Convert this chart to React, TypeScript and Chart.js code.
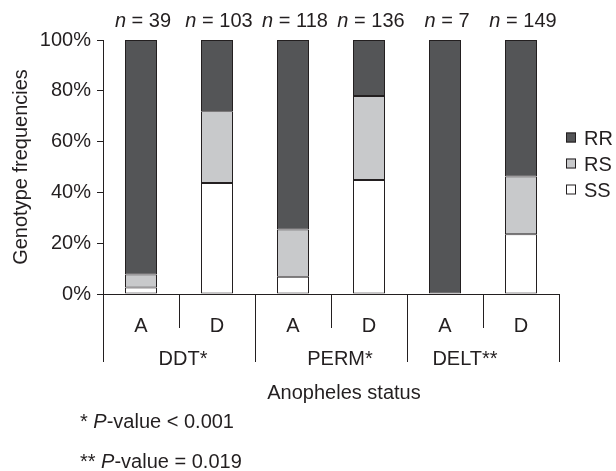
import React, { useEffect, useRef } from "react";
import { Chart, registerables } from "chart.js";
Chart.register(...registerables);

const categories = ["A", "D", "A", "D", "A", "D"];
const groups = ["DDT*", "PERM*", "DELT**"];
const sampleSizes = [39, 103, 118, 136, 7, 149];
const ssValues = [2.6, 43.7, 6.8, 44.9, 0, 23.5];
const rsValues = [5.1, 28.2, 18.6, 33.1, 0, 22.8];
const rrValues = [92.3, 28.1, 74.6, 22.0, 100, 53.7];
const yTickStep = 20;
const yTitle = "Genotype frequencies";
const xTitle = "Anopheles status";
const footnoteMarks = ["*", "**"];
const footnoteTexts = ["-value < 0.001", "-value = 0.019"];

const INK = "#231f20";
const FONT = "'Liberation Sans', Arial, Helvetica, sans-serif";

const extrasPlugin = {
  id: "extras",
  afterDraw(chart: any) {
    const ctx = chart.ctx as CanvasRenderingContext2D;
    const xs = chart.scales.x;
    const area = chart.chartArea;
    const step = xs.getPixelForValue(1) - xs.getPixelForValue(0);
    ctx.save();
    ctx.fillStyle = INK;
    ctx.strokeStyle = INK;
    ctx.lineWidth = 1;
    // n labels
    ctx.textBaseline = "alphabetic";
    sampleSizes.forEach((n, i) => {
      const cx = xs.getPixelForValue(i) + 2;
      ctx.font = `italic 20px ${FONT}`;
      const w1 = ctx.measureText("n").width;
      ctx.font = `20px ${FONT}`;
      const rest = " = " + n;
      const w2 = ctx.measureText(rest).width;
      const x0 = cx - (w1 + w2) / 2;
      ctx.textAlign = "left";
      ctx.font = `italic 20px ${FONT}`;
      ctx.fillText("n", x0, area.top - 13);
      ctx.font = `20px ${FONT}`;
      ctx.fillText(rest, x0 + w1, area.top - 13);
    });
    // separators
    for (let i = 0; i <= categories.length; i++) {
      const bx = Math.round(xs.getPixelForValue(i) - step / 2) + 0.5;
      const long = i % 2 === 0;
      ctx.beginPath();
      ctx.moveTo(bx, area.bottom);
      ctx.lineTo(bx, area.bottom + (long ? 68 : 34));
      ctx.stroke();
    }
    // group labels
    const groupDx = [4, 9, -18];
    ctx.font = `20px ${FONT}`;
    ctx.textAlign = "center";
    groups.forEach((g, gi) => {
      const cx = (xs.getPixelForValue(gi * 2) + xs.getPixelForValue(gi * 2 + 1)) / 2 + groupDx[gi];
      ctx.fillText(g, cx, area.bottom + 71);
    });
    ctx.fillText(xTitle, (area.left + area.right) / 2 + 13, area.bottom + 105);
    // footnotes
    footnoteMarks.forEach((m, i) => {
      const yb = area.bottom + 134 + i * 39.5;
      let x = 80;
      ctx.textAlign = "left";
      ctx.font = `20px ${FONT}`;
      ctx.fillText(m + " ", x, yb);
      x += ctx.measureText(m + " ").width;
      ctx.font = `italic 20px ${FONT}`;
      ctx.fillText("P", x, yb);
      x += ctx.measureText("P").width;
      ctx.font = `20px ${FONT}`;
      ctx.fillText(footnoteTexts[i], x, yb);
    });
    // legend (reverse order)
    const ds = chart.data.datasets;
    ctx.textAlign = "left";
    ctx.textBaseline = "alphabetic";
    for (let k = ds.length - 1, row = 0; k >= 0; k--, row++) {
      const cy = 137.5 + row * 26;
      ctx.fillStyle = ds[k].backgroundColor;
      ctx.fillRect(566, cy - 5, 10, 10);
      ctx.strokeStyle = INK;
      ctx.strokeRect(566.5, cy - 4.5, 9, 9);
      ctx.fillStyle = INK;
      ctx.font = `20px ${FONT}`;
      ctx.fillText(ds[k].label, 584, cy + 7);
    }
    ctx.restore();
  },
};

export default function App() {
  const ref = useRef<HTMLCanvasElement>(null);
  useEffect(() => {
    if (!ref.current) return;
    const common = { borderColor: INK, borderWidth: 1, borderSkipped: false as const };
    const chart = new Chart(ref.current, {
      type: "bar",
      data: {
        labels: categories,
        datasets: [
          { label: "SS", data: ssValues, backgroundColor: "#ffffff", ...common },
          { label: "RS", data: rsValues, backgroundColor: "#c8c9cb", ...common },
          { label: "RR", data: rrValues, backgroundColor: "#545557", ...common },
        ],
      },
      options: {
        animation: false,
        responsive: false,
        layout: { padding: { top: 40, right: 57, left: 0, bottom: 0 } },
        plugins: { legend: { display: false }, tooltip: { enabled: false } },
        datasets: { bar: { categoryPercentage: 1, barPercentage: 32 / 76 } },
        scales: {
          x: {
            stacked: true,
            grid: { display: false },
            border: { display: true, color: INK, width: 1 },
            ticks: { color: INK, font: { family: FONT, size: 20 }, padding: 12 },
            afterFit: (s: any) => { s.height = 177; },
          },
          y: {
            stacked: true,
            min: 0,
            max: 100,
            grid: { drawOnChartArea: false, drawTicks: true, tickLength: 6, color: INK },
            border: { display: true, color: INK, width: 1 },
            ticks: {
              stepSize: yTickStep,
              color: INK,
              padding: 6,
              font: { family: FONT, size: 20 },
              callback: (v: any) => v + "%",
            },
            title: {
              display: true,
              text: yTitle,
              color: INK,
              font: { family: FONT, size: 20 },
              padding: { top: 9, bottom: 0 },
            },
            afterFit: (s: any) => { s.width = 103; },
          },
        },
      },
      plugins: [extrasPlugin],
    });
    return () => chart.destroy();
  }, []);
  return (
    <div style={{ position: "fixed", left: 0, top: 0, width: 616, height: 471, background: "#fff" }}>
      <canvas ref={ref} width={616} height={471} style={{ display: "block" }} />
    </div>
  );
}
